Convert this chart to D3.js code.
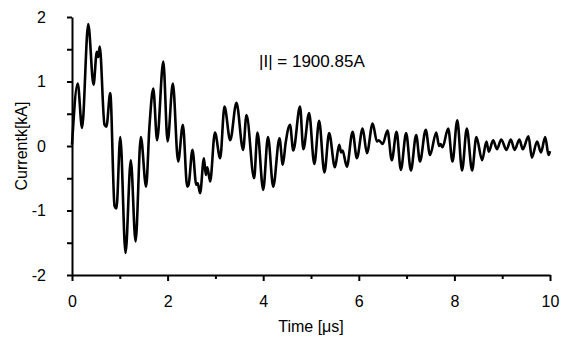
<!DOCTYPE html>
<html><head><meta charset="utf-8">
<script src="https://cdn.jsdelivr.net/npm/d3@7"></script>
<style>body{margin:0;background:#fff}svg{display:block}</style>
</head><body>
<svg id="c" width="565" height="340"></svg>
<script>
const timeUs = [0,0.12,0.21,0.34,0.45,0.52,0.55,0.58,0.68,0.72,0.80,0.89,0.93,1.01,1.12,1.23,1.33,1.44,1.55,1.62,1.70,1.78,1.91,2.00,2.11,2.22,2.32,2.41,2.44,2.52,2.60,2.63,2.68,2.76,2.80,2.83,2.89,2.99,3.10,3.19,3.31,3.44,3.58,3.65,3.81,3.88,4.00,4.10,4.21,4.34,4.41,4.47,4.56,4.63,4.77,4.84,4.96,5.07,5.17,5.28,5.38,5.50,5.59,5.63,5.66,5.75,5.87,5.96,6.08,6.17,6.29,6.38,6.42,6.50,6.60,6.69,6.79,6.88,6.99,7.09,7.20,7.28,7.40,7.49,7.62,7.68,7.71,7.75,7.87,7.96,8.06,8.16,8.26,8.37,8.46,8.58,8.67,8.72,8.81,8.89,8.98,9.09,9.18,9.26,9.36,9.43,9.55,9.62,9.73,9.81,9.90,9.97,10.0];
const currentKA = [0.02,0.97,0.28,1.89,0.95,1.46,1.38,1.54,0.33,0.30,0.82,-0.93,-0.97,0.14,-1.66,-0.22,-1.48,0.14,-0.63,0.30,0.89,0.09,1.31,0.07,0.97,-0.24,0.33,-0.63,-0.60,-0.06,-0.60,-0.58,-0.73,-0.19,-0.45,-0.33,-0.55,0.21,-0.19,0.61,0.09,0.67,-0.06,0.48,-0.50,0.21,-0.68,0.14,-0.63,0.12,-0.29,0.05,0.33,-0.07,0.61,-0.05,0.51,-0.28,0.39,-0.41,0.20,-0.33,0.02,-0.10,-0.07,-0.32,0.22,-0.19,0.27,-0.11,0.35,0.07,0.09,0.03,0.24,-0.22,0.22,-0.37,0.20,-0.38,0.17,-0.24,0.25,-0.14,0.21,0.00,0.03,-0.02,0.27,-0.24,0.40,-0.38,0.27,-0.38,0.14,-0.22,0.07,-0.09,0.09,-0.05,0.10,-0.06,0.10,-0.06,0.10,-0.05,0.15,-0.18,0.07,-0.10,0.14,-0.14,-0.08];
const xTicks = [0,2,4,6,8,10];
const xMinorTicks = [1,3,5,7,9];
const yTicks = [-2,-1,0,1,2];
const yTickLabels = ["-2","-1","0","1","2"];
const yMinorTicks = [-1.5,-0.5,0.5,1.5];
const annotation = "|I| = 1900.85A";
const xTitle = "Time [\u03bcs]";
const yTitle = "Currentk[kA]";

const svg = d3.select("#c");
const m = {l:72, r:15, t:17, b:65};
const W = 565, H = 340;
const x = d3.scaleLinear().domain([0,10]).range([m.l, W - m.r]);
const y = d3.scaleLinear().domain([-2,2]).range([H - m.b, m.t]);
const font = "'Liberation Sans', Arial, sans-serif";

// x axis
svg.append("g").attr("transform", `translate(0,${y(-2)})`)
  .call(d3.axisBottom(x).tickValues(xTicks).tickSize(6).tickPadding(15).tickSizeOuter(0).tickFormat(d => String(d)));
svg.append("g").attr("transform", `translate(0,${y(-2)})`)
  .call(d3.axisBottom(x).tickValues(xMinorTicks).tickSize(4).tickFormat("").tickSizeOuter(0))
  .select(".domain").remove();
// y axis
svg.append("g").attr("transform", `translate(${x(0)},0)`)
  .call(d3.axisLeft(y).tickValues(yTicks).tickSize(5).tickPadding(21).tickSizeOuter(0).tickFormat((d,i) => yTickLabels[i]));
svg.append("g").attr("transform", `translate(${x(0)},0)`)
  .call(d3.axisLeft(y).tickValues(yMinorTicks).tickSize(5).tickFormat("").tickSizeOuter(0))
  .select(".domain").remove();

svg.selectAll(".domain").attr("stroke", "#000").attr("stroke-width", 2);
svg.selectAll(".tick line").attr("stroke", "#000").attr("stroke-width", 2);
svg.selectAll(".tick text").attr("font-family", font).attr("font-size", 16).attr("fill", "#000");

// line
const data = timeUs.map((t,i) => [t, currentKA[i]]);
svg.append("path").datum(data)
  .attr("fill", "none").attr("stroke", "#000").attr("stroke-width", 2.6)
  .attr("stroke-linejoin", "round")
  .attr("d", d3.line().x(d => x(d[0])).y(d => y(d[1])).curve(d3.curveMonotoneX));

// titles
svg.append("text").attr("x", (x(0)+x(10))/2).attr("y", 332)
  .attr("text-anchor", "middle").attr("font-family", font).attr("font-size", 16).text(xTitle);
svg.append("text").attr("transform", `translate(27,${y(0)}) rotate(-90)`)
  .attr("text-anchor", "middle").attr("font-family", font).attr("font-size", 16).text(yTitle);
svg.append("text").attr("x", 259).attr("y", 67)
  .attr("font-family", font).attr("font-size", 17).text(annotation);
</script>
</body></html>
